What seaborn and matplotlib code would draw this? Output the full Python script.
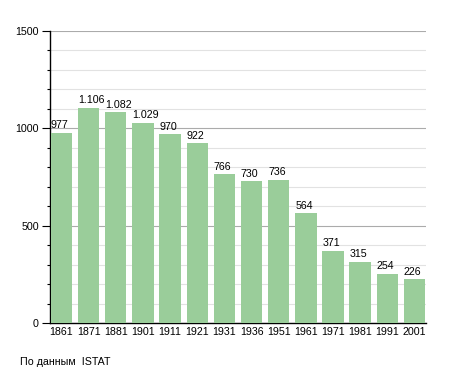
import pandas as pd
import matplotlib.pyplot as plt
import seaborn as sns
from matplotlib.ticker import MultipleLocator

years = ["1861", "1871", "1881", "1901", "1911", "1921", "1931",
         "1936", "1951", "1961", "1971", "1981", "1991", "2001"]
population = [977, 1106, 1082, 1029, 970, 922, 766,
              730, 736, 564, 371, 315, 254, 226]
value_labels = ["977", "1.106", "1.082", "1.029", "970", "922", "766",
                "730", "736", "564", "371", "315", "254", "226"]

df = pd.DataFrame({"year": years, "pop": population})

sns.set_style("white")
plt.rcParams['font.family'] = ['Liberation Sans', 'DejaVu Sans']
plt.rcParams['text.color'] = 'black'
plt.rcParams['xtick.color'] = 'black'
plt.rcParams['ytick.color'] = 'black'

fig = plt.figure(figsize=(4.55, 3.73), dpi=100)
ax = fig.add_axes([0.110, 0.134, 0.826, 0.783])

bar_w = 0.79
sns.barplot(data=df, x="year", y="pop", color="#9acd9a", saturation=1,
            width=bar_w, linewidth=0, ax=ax, zorder=3)

# value labels sit above the left edge of each bar
for i, (v, lab) in enumerate(zip(population, value_labels)):
    ax.text(i - bar_w / 2, v + 12, lab, ha="left", va="bottom", fontsize=7.7)

ax.set_ylim(0, 1500)
ax.set_xlim(-0.42, 13.42)
ax.yaxis.set_major_locator(MultipleLocator(500))
ax.yaxis.set_minor_locator(MultipleLocator(100))
ax.grid(axis="y", which="major", color="#ababab", linewidth=0.8, zorder=0)
ax.grid(axis="y", which="minor", color="#e2e2e2", linewidth=0.8, zorder=0)
ax.set_axisbelow(True)

for s in ["top", "right"]:
    ax.spines[s].set_visible(False)
for s in ["left", "bottom"]:
    ax.spines[s].set_color("black")
    ax.spines[s].set_linewidth(1.0)

ax.tick_params(axis="y", which="major", direction="out", length=6, width=0.8,
               labelsize=7.7, left=True, pad=2)
ax.tick_params(axis="y", which="minor", direction="out", length=2, width=0.8, left=True)
ax.tick_params(axis="x", length=0, labelsize=7.7, pad=3)
ax.set_xlabel("")
ax.set_ylabel("")

fig.text(20 / 455, 1 - 362 / 373, "По данным  ISTAT", fontsize=7.7, va="center", ha="left")

fig.savefig("out.png", dpi=100)
